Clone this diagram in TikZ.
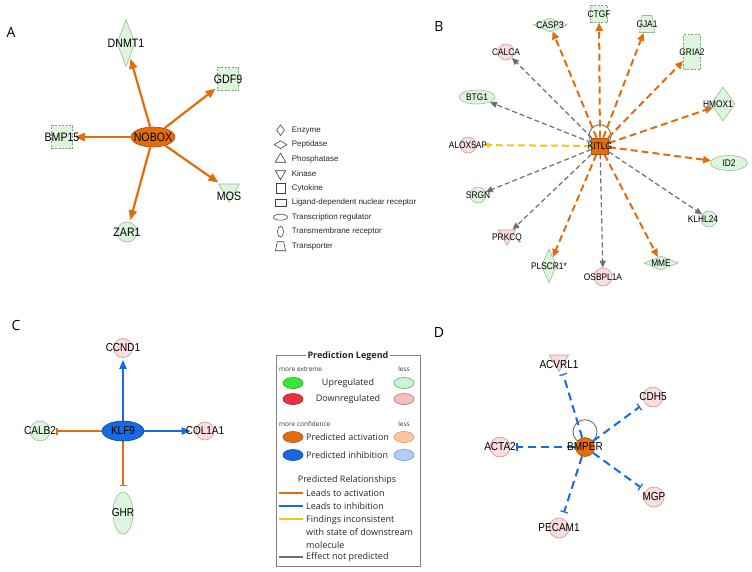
\documentclass[tikz,border=0pt]{standalone}
\usepackage{fontspec}
\setmainfont{Liberation Sans}
\newfontfamily\genefont[FakeStretch=0.87]{Liberation Sans}
\newfontfamily\keyfont{Open Sans}
\usetikzlibrary{positioning,shapes.geometric,arrows.meta}
\pgfdeclarelayer{edges}
\pgfsetlayers{edges,main}
\tikzset{
	x=1pt, y=-1pt,% one unit is one pixel of the figure, y runs down
	circ/.style={circle, minimum size=#1, inner sep=0pt},
	oval/.style 2 args={ellipse, minimum width=#1, minimum height=#2, inner sep=0pt},
	dia/.style 2 args={diamond, minimum width=#1, minimum height=#2, inner sep=0pt},
	box/.style 2 args={rectangle, minimum width=#1, minimum height=#2, inner sep=0pt},
	kinase/.style={regular polygon, regular polygon sides=3, shape border rotate=180, minimum size=#1, inner sep=0pt},
	phos/.style={regular polygon, regular polygon sides=3, minimum size=#1, inner sep=0pt},
	transp/.style 2 args={trapezium, trapezium stretches=true, trapezium left angle=75, trapezium right angle=75, minimum width=#1, minimum height=#2, inner sep=1pt},
	gene/.style={label={center:#1}},
	up/.style={fill=upfill, draw=upline, line width=0.6pt},
	dn/.style={fill=dnfill, draw=dnline, line width=0.6pt},
	growth/.style={fill=upfill, draw=cytline, line width=0.6pt, dash pattern=on 2pt off 1.5pt},
	hub/.style={fill=actorange, draw=actdark, line width=0.6pt},
	act/.style={draw=actorange, line width=2.2pt, -{Triangle[length=10pt,width=8pt]}, shorten >=2pt},
	actdash/.style={draw=actorange, line width=2pt, dash pattern=on 7pt off 4pt, -{Triangle[length=8pt,width=7pt]}},
	nopred/.style={draw=npgray, line width=1.2pt, dash pattern=on 5pt off 3pt, -{Triangle[length=7pt,width=6pt]}},
	incons/.style={draw=incyellow, line width=2pt, dash pattern=on 7pt off 4pt, -{Triangle[length=5pt,width=5pt]}, shorten >=8pt},
	inh/.style={draw=inhblue, line width=2pt, -{Triangle[length=9pt,width=7pt]}},
	actbar/.style={draw=actorange, line width=2pt, -{Bar[width=7pt,line width=1.2pt]}, shorten >=6pt},
	inhbar/.style={draw=inhblue, line width=2pt, dash pattern=on 8pt off 5pt, -{Bar[width=8pt,line width=1.2pt]}, shorten >=6pt},
	selfloop/.style={draw=npgray, line width=0.9pt},
	panellbl/.style={font=\keyfont\fontsize{14}{16}\selectfont},
	keyicon/.style={draw=black!75, line width=0.6pt, anchor=center},
	keytxt/.style={font=\fontsize{8}{9}\selectfont, anchor=west, minimum height=14.5pt, inner sep=0pt, text=black!85},
	keytext/.style={font=\keyfont\fontsize{9}{13}\selectfont, text=black!85, inner sep=0pt},
	keysmall/.style={font=\keyfont\fontsize{6.5}{7}\selectfont, text=black!80, inner sep=0pt},
	keyoval/.style={ellipse, minimum width=20pt, minimum height=11pt, inner sep=0pt, line width=0.6pt},
	keyline/.style={line width=2.6pt}
}

\begin{document}
\begin{tikzpicture}
\definecolor{actorange}{RGB}{228,108,10}
\definecolor{actdark}{RGB}{170,80,20}
\definecolor{inhblue}{RGB}{25,105,225}
\definecolor{inhdark}{RGB}{10,70,170}
\definecolor{npgray}{RGB}{110,110,110}
\definecolor{incyellow}{RGB}{240,200,20}
\definecolor{upfill}{RGB}{221,245,221}
\definecolor{upline}{RGB}{150,190,150}
\definecolor{dnfill}{RGB}{250,222,222}
\definecolor{dnline}{RGB}{200,150,150}
\definecolor{cytline}{RGB}{130,160,130}
\definecolor{upstrong}{RGB}{51,235,51}
\definecolor{dnstrong}{RGB}{235,50,60}
\definecolor{uplight}{RGB}{205,245,205}
\definecolor{dnlight}{RGB}{248,190,190}
\definecolor{actlight}{RGB}{250,200,160}
\definecolor{inhlight}{RGB}{180,205,245}
\definecolor{keyframe}{RGB}{130,130,130}
\useasboundingbox (0,0) rectangle (752,571);

% panel A
\node[panellbl] (lbla) at (11,32) {A};
\begin{scope}[every label/.append style={font=\genefont\fontsize{12.2}{14}\selectfont}]
\node[oval={44}{20}, hub, gene=NOBOX] (nobox) at (153,137) {};
\node[dia={18}{47}, up, gene=DNMT1] (dnmt1) at (126,43) {};
\node[box={21}{23}, growth, gene=GDF9] (gdf9) at (228,79) {};
\node[box={21}{23}, growth, gene=BMP15] (bmp15) at (62,137) {};
\node[kinase=24, up, label={[yshift=-6pt]center:MOS}] (mos) at (229,190) {};
\node[circ=20, up, gene=ZAR1] (zar1) at (127,232) {};
\end{scope}
\begin{pgfonlayer}{edges}
\foreach \t in {dnmt1,gdf9,bmp15,mos,zar1}
	\draw[act] (nobox) -- (\t);
\end{pgfonlayer}

% molecule types
\matrix (shapekey) [matrix anchor=north west, inner sep=0pt, column sep=4pt, row sep=0pt] at (273,122.75) {
\node[dia={8}{11}, keyicon] {}; & \node[keytxt] {Enzyme}; \\
\node[dia={13}{8}, keyicon] {}; & \node[keytxt] {Peptidase}; \\
\node[phos=12, keyicon] {}; & \node[keytxt] {Phosphatase}; \\
\node[kinase=12, keyicon] {}; & \node[keytxt] {Kinase}; \\
\node[box={9}{10}, keyicon] {}; & \node[keytxt] {Cytokine}; \\
\node[box={11}{7}, keyicon] {}; & \node[keytxt] {Ligand-dependent nuclear receptor}; \\
\node[oval={14}{6}, keyicon] {}; & \node[keytxt] {Transcription regulator}; \\
\node[oval={6}{11}, keyicon] {}; & \node[keytxt] {Transmembrane receptor}; \\
\node[transp={10}{9}, keyicon] {}; & \node[keytxt] {Transporter}; \\
};

% panel B
\node[panellbl] (lblb) at (439,26) {B};
\begin{scope}[every label/.append style={font=\genefont\fontsize{9.6}{11}\selectfont}]
\node[box={17}{16}, hub, gene=KITLG] (kitlg) at (600,146) {};
\node[dia={34}{14}, up, gene=CASP3] (casp3) at (550,25) {};
\node[box={17}{17}, growth, gene=CTGF] (ctgf) at (599,14) {};
\node[transp={15}{17}, up, gene=GJA1] (gja1) at (647,24) {};
\node[box={17}{35}, growth, gene=GRIA2] (gria2) at (692,52) {};
\node[circ=16, dn, gene=CALCA] (calca) at (506,52) {};
\node[oval={36}{14}, up, gene=BTG1] (btg1) at (477,97) {};
\node[dia={24}{34}, up, label={[xshift=-5pt]center:HMOX1}] (hmox1) at (723,104) {};
\node[circ=16, dn, gene=ALOX5AP] (alox5ap) at (468,145) {};
\node[oval={37}{15}, up, gene=ID2] (id2) at (729,163) {};
\node[circ=16, up, gene=SRGN] (srgn) at (478,195) {};
\node[circ=16, up, label={[xshift=-6pt]center:KLHL24}] (klhl24) at (709,219) {};
\node[kinase=20, dn, label={[yshift=-3pt]center:PRKCQ}] (prkcq) at (507,235) {};
\node[dia={15}{34}, up, gene=PLSCR1*] (plscr1) at (549,266) {};
\node[circ=18, dn, gene=OSBPL1A] (osbpl1a) at (603,277) {};
\node[dia={34}{14}, up, gene=MME] (mme) at (661,263) {};
\end{scope}
\begin{pgfonlayer}{edges}
\draw[selfloop] (kitlg.north) ++(0,-2) circle (11pt);
\foreach \t in {casp3,ctgf,gja1,gria2,hmox1,id2,plscr1,mme}
	\draw[actdash] (kitlg) -- (\t);
\foreach \t in {calca,btg1,srgn,prkcq,osbpl1a,klhl24}
	\draw[nopred] (kitlg) -- (\t);
\draw[incons] (kitlg) -- (alox5ap);
\end{pgfonlayer}

% panel C
\node[panellbl] (lblc) at (16,325) {C};
\begin{scope}[every label/.append style={font=\genefont\fontsize{11.5}{13}\selectfont}]
\node[oval={42}{20}, fill=inhblue, draw=inhdark, line width=0.6pt, gene=KLF9] (klf9) at (123,431) {};
\node[circ=19, dn, gene=CCND1] (ccnd1) at (123,348) {};
\node[circ=20, up, gene=CALB2] (calb2) at (40,431) {};
\node[circ=18, dn, gene=COL1A1] (col1a1) at (205,431) {};
\node[oval={20}{42}, up, gene=GHR] (ghr) at (123,513) {};
\end{scope}
\begin{pgfonlayer}{edges}
\draw[inh, shorten >=2pt] (klf9) -- (ccnd1);
\draw[inh, shorten >=5pt] (klf9) -- (col1a1);
\draw[actbar] (klf9) -- (calb2);
\draw[actbar] (klf9) -- (ghr);
\end{pgfonlayer}

% prediction legend
\node[draw=keyframe, line width=0.6pt, minimum width=144pt, minimum height=211pt, inner sep=0pt, anchor=north west] (predkey) at (276,355) {};
\node[keytext, font=\keyfont\bfseries\fontsize{9}{11}\selectfont, fill=white, inner xsep=2pt] (keytitle) at (348,356) {Prediction Legend};
\node[keysmall, anchor=west] (extreme) at (279,369) {more extreme};
\node[keysmall] (extless) at (404,369) {less};
\node[keyoval, fill=upstrong, draw=upstrong!70!black] (upa) at (293,383) {};
\node[keytext] (uptxt) at (348,383) {Upregulated};
\node[keyoval, fill=uplight, draw=upline!80!black] (upb) at (404,383) {};
\node[keyoval, fill=dnstrong, draw=dnstrong!70!black] (dna) at (293,399) {};
\node[keytext] (dntxt) at (348,399) {Downregulated};
\node[keyoval, fill=dnlight, draw=dnline!80!black] (dnb) at (404,399) {};
\node[keysmall, anchor=west] (conf) at (279,424) {more confidence};
\node[keysmall] (confless) at (404,424) {less};
\node[keyoval, fill=actorange, draw=actdark] (acta) at (293,437) {};
\node[keytext, anchor=west] (acttxt) at (306,437) {Predicted activation};
\node[keyoval, fill=actlight, draw=actdark!60] (actb) at (404,437) {};
\node[keyoval, fill=inhblue, draw=inhdark] (inha) at (293,455) {};
\node[keytext, anchor=west] (inhtxt) at (306,455) {Predicted inhibition};
\node[keyoval, fill=inhlight, draw=inhdark!60] (inhb) at (404,455) {};
\node[keytext] (reltitle) at (347,480) {Predicted Relationships};
\draw[keyline, actorange] (279,493) -- (303,493);
\node[keytext, anchor=west] (reltxt1) at (306,493) {Leads to activation};
\draw[keyline, inhblue] (279,506) -- (303,506);
\node[keytext, anchor=west] (reltxt2) at (306,506) {Leads to inhibition};
\draw[keyline, incyellow] (279,519) -- (303,519);
\node[keytext, anchor=west, align=left] (reltxt3) at (306,532) {Findings inconsistent\\with state of downstream\\molecule};
\draw[keyline, npgray] (279,557) -- (303,557);
\node[keytext, anchor=west] (reltxt4) at (306,557) {Effect not predicted};

% panel D
\node[panellbl] (lbld) at (439,332) {D};
\begin{scope}[every label/.append style={font=\genefont\fontsize{11.5}{13}\selectfont}]
\node[circ=19, hub, gene=BMPER] (bmper) at (585,447) {};
\node[kinase=22, dn, label={[yshift=-4.5pt]center:ACVRL1}] (acvrl1) at (559,360.5) {};
\node[circ=20, dn, gene=CDH5] (cdh5) at (653,397) {};
\node[circ=20, dn, gene=ACTA2] (acta2) at (500,447) {};
\node[circ=20, dn, gene=MGP] (mgp) at (654,497) {};
\node[circ=20, dn, gene=PECAM1] (pecam1) at (559,528) {};
\end{scope}
\begin{pgfonlayer}{edges}
\draw[selfloop] (bmper.north) ++(0,-5.5) circle (12pt);
\foreach \t in {acvrl1,cdh5,acta2,mgp,pecam1}
	\draw[inhbar] (bmper) -- (\t);
\end{pgfonlayer}
\end{tikzpicture}
\end{document}
